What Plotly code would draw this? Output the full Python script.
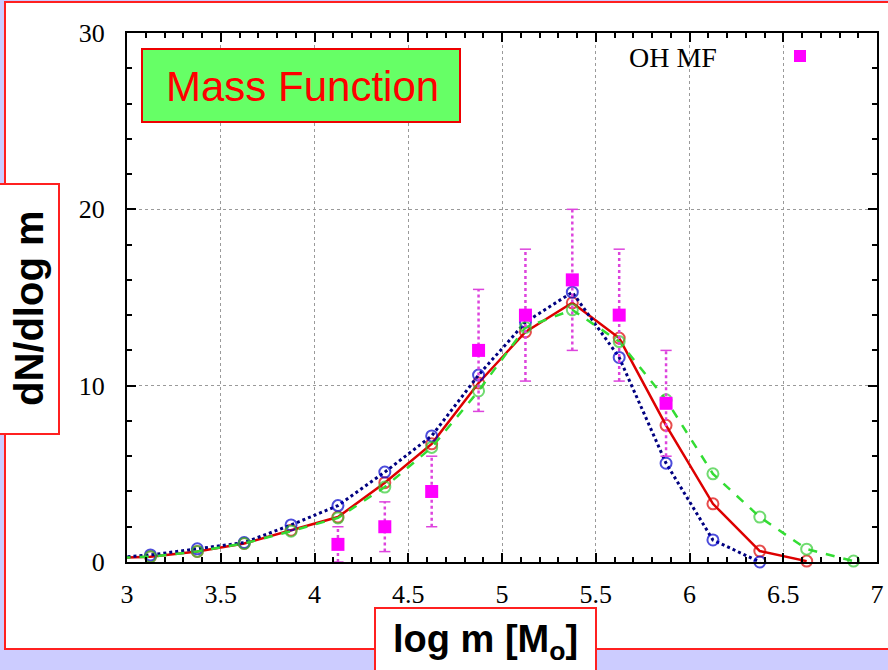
import plotly.graph_objects as go

# ---------------- data ----------------
x_blue = [2.875, 3.125, 3.375, 3.625, 3.875, 4.125, 4.375, 4.625, 4.875, 5.125, 5.375, 5.625, 5.875, 6.125, 6.375]
y_blue = [0.2, 0.4, 0.75, 1.1, 2.1, 3.2, 5.1, 7.15, 10.6, 13.6, 15.3, 11.6, 5.6, 1.25, 0.0]

x_red = [2.875, 3.125, 3.375, 3.625, 3.875, 4.125, 4.375, 4.625, 4.875, 5.125, 5.375, 5.625, 5.875, 6.125, 6.375, 6.625]
y_red = [0.2, 0.3, 0.6, 1.05, 1.8, 2.55, 4.5, 6.7, 10.15, 13.05, 14.7, 12.7, 7.75, 3.3, 0.62, 0.05]

x_green = [2.875, 3.125, 3.375, 3.625, 3.875, 4.125, 4.375, 4.625, 4.875, 5.125, 5.375, 5.625, 5.875, 6.125, 6.375, 6.625, 6.875]
y_green = [0.2, 0.3, 0.6, 1.05, 1.75, 2.5, 4.25, 6.5, 9.7, 13.3, 14.3, 12.5, 9.2, 5.0, 2.55, 0.73, 0.05]

x_oh = [4.125, 4.375, 4.625, 4.875, 5.125, 5.375, 5.625, 5.875]
y_oh = [1, 2, 4, 12, 14, 16, 14, 9]
err_oh = [1.0, 1.41, 2.0, 3.46, 3.74, 4.0, 3.74, 3.0]

x_ticks = [3, 3.5, 4, 4.5, 5, 5.5, 6, 6.5, 7]
y_ticks = [0, 10, 20, 30]

W, H = 888, 670
def px(v): return v / W
def py(v): return 1 - v / H

fig = go.Figure()

def curve(xs, ys, color, mcolor, dash, width):
    sizes = [0] + [11] * (len(xs) - 1)
    fig.add_trace(go.Scatter(
        x=xs, y=ys, mode="lines+markers",
        line=dict(color=color, width=width, dash=dash),
        marker=dict(symbol="circle-open", size=sizes, color=mcolor, line=dict(width=2, color=mcolor)),
        cliponaxis=False, showlegend=False))

curve(x_red, y_red, "#dd0000", "#dd0000", "solid", 2.5)
curve(x_blue, y_blue, "#000080", "#0000cc", "dot", 3)
curve(x_green, y_green, "#33dd33", "#33cc33", "dash", 2.5)

# error bars (dotted) for OH MF
ex, ey, cx, cy = [], [], [], []
for xv, yv, ev in zip(x_oh, y_oh, err_oh):
    ex += [xv, xv, None]
    ey += [yv - ev, yv + ev, None]
    cx += [xv, xv]
    cy += [yv - ev, yv + ev]
fig.add_trace(go.Scatter(x=ex, y=ey, mode="lines",
                         line=dict(color="#dd44dd", width=2.5, dash="dot"),
                         showlegend=False))
fig.add_trace(go.Scatter(x=cx, y=cy, mode="markers",
                         marker=dict(symbol="line-ew", size=8, line=dict(color="#dd44dd", width=1.5)),
                         showlegend=False))
fig.add_trace(go.Scatter(x=x_oh, y=y_oh, mode="markers",
                         marker=dict(symbol="square", size=13, color="#ff00ff"),
                         cliponaxis=False, showlegend=False))

axis_common = dict(
    showline=True, linecolor="black", linewidth=2, mirror="ticks",
    ticks="inside", ticklen=9, tickwidth=1.5, tickcolor="black",
    showgrid=True, gridcolor="#9a9a9a", griddash="dot", gridwidth=1,
    zeroline=False,
    tickfont=dict(family="Liberation Serif", size=26, color="black"),
    automargin=False,
)

fig.update_xaxes(range=[3, 7], tickvals=x_ticks, ticktext=[f"{v:g}" for v in x_ticks],
                 domain=[px(127), px(877)],
                 minor=dict(dtick=0.1, tick0=3, ticks="inside", ticklen=5, tickcolor="black", showgrid=False),
                 ticklabelstandoff=8, **axis_common)
fig.update_yaxes(range=[0, 30], tickvals=y_ticks, ticktext=[str(v) for v in y_ticks],
                 domain=[py(562), py(33)],
                 minor=dict(dtick=2, tick0=0, ticks="inside", ticklen=5, tickcolor="black", showgrid=False),
                 ticklabelstandoff=15, **axis_common)

shapes = [
    # outer white panel with red border
    dict(type="rect", xref="paper", yref="paper", x0=px(5), x1=px(900), y0=py(649), y1=py(2),
         fillcolor="white", line=dict(color="#ff2020", width=2), layer="below"),
    # title box
    dict(type="rect", xref="paper", yref="paper", x0=px(142), x1=px(460), y0=py(122), y1=py(49),
         fillcolor="#66ff66", line=dict(color="#ee0000", width=2), layer="above"),
    # y label box
    dict(type="rect", xref="paper", yref="paper", x0=px(-5), x1=px(59), y0=py(434), y1=py(184),
         fillcolor="white", line=dict(color="#ff2020", width=2), layer="above"),
    # x label box
    dict(type="rect", xref="paper", yref="paper", x0=px(375), x1=px(596), y0=py(680), y1=py(608),
         fillcolor="white", line=dict(color="#ff2020", width=2), layer="above"),
    # legend marker
    dict(type="rect", xref="paper", yref="paper", x0=px(794), x1=px(806), y0=py(62), y1=py(50),
         fillcolor="#ff00ff", line=dict(width=0), layer="above"),
]

annotations = [
    dict(text="Mass Function", xref="paper", yref="paper", x=px(302), y=py(86),
         xanchor="center", yanchor="middle", showarrow=False,
         font=dict(family="Liberation Sans", size=42, color="#ff0000")),
    dict(text="<b>dN/dlog m</b>", xref="paper", yref="paper", x=px(29), y=py(308),
         xanchor="center", yanchor="middle", showarrow=False, textangle=-90,
         font=dict(family="Liberation Sans", size=40, color="black")),
    dict(text="<b>log m [M<sub>o</sub>]</b>", xref="paper", yref="paper", x=px(486), y=py(642),
         xanchor="center", yanchor="middle", showarrow=False,
         font=dict(family="Liberation Sans", size=38, color="black")),
    dict(text="OH MF", xref="paper", yref="paper", x=px(673), y=py(57),
         xanchor="center", yanchor="middle", showarrow=False,
         font=dict(family="Liberation Serif", size=28, color="black")),
]

fig.update_layout(
    width=W, height=H,
    margin=dict(l=0, r=0, t=0, b=0),
    paper_bgcolor="#ccccff", plot_bgcolor="white",
    shapes=shapes, annotations=annotations, showlegend=False,
)

fig.write_html("out.html")
